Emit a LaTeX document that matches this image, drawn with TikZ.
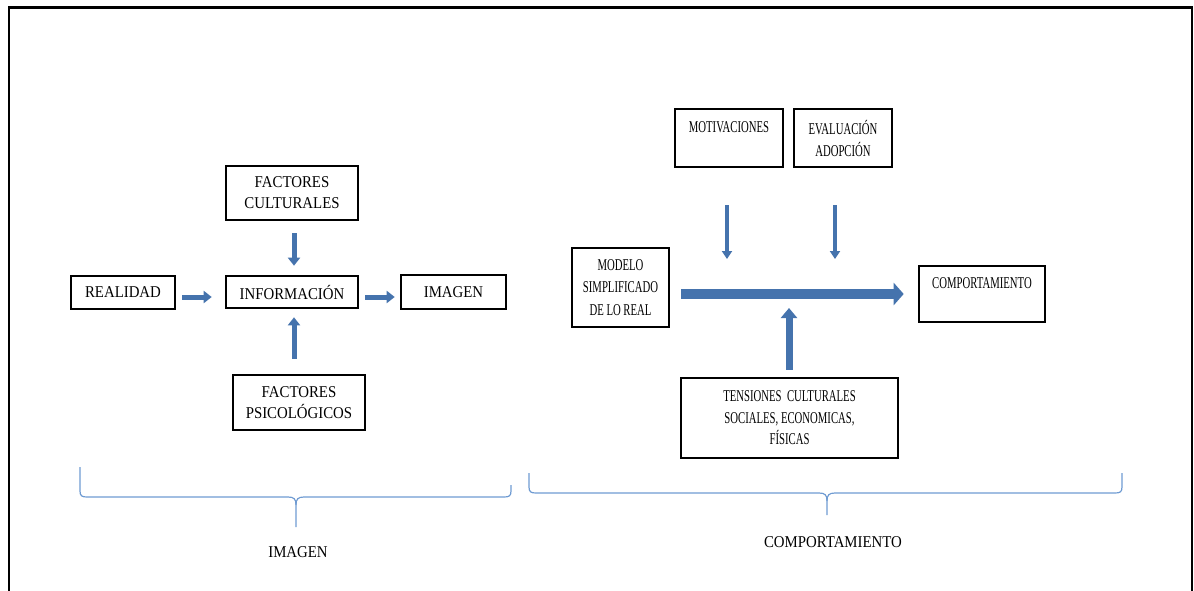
\documentclass[tikz,border=0pt]{standalone}
\usepackage{fontspec}
\setmainfont{Liberation Serif}[FakeStretch=0.9]
\newfontfamily\narrowf{Liberation Serif}[FakeStretch=0.65]
\usetikzlibrary{arrows.meta,shadows}
\definecolor{arrowblue}{HTML}{4573AD}
\definecolor{bracecol}{HTML}{6F9BD2}
\begin{document}
\begin{tikzpicture}[x=1pt, y=-1pt, font=\fontsize{16.5}{21}\selectfont,
  box/.style={draw=black, line width=2.6pt, fill=white, inner sep=0pt, align=center,
    general shadow={fill=black!35, shadow xshift=1pt, shadow yshift=-1pt}},
  rbox/.style={box, font=\fontsize{16.5}{22}\selectfont\narrowf},
  barrow/.style={draw=arrowblue, line width=5pt, -{Triangle[width=12pt,length=8pt]}},
  bigarrow/.style={draw=arrowblue, line width=10pt, -{Triangle[width=22pt,length=10pt]}},
  midarrow/.style={draw=arrowblue, line width=7pt, -{Triangle[width=16pt,length=10pt]}},
  thinarrow/.style={draw=arrowblue, line width=3.5pt, -{Triangle[width=10pt,length=8pt]}},
  brace/.style={draw=bracecol, line width=1.2pt}]
\useasboundingbox (0,0) rectangle (1194,591);
% outer frame
\draw[line width=2.5pt] (9,595) -- (9,7.5) -- (1192,7.5) -- (1192,595);

% left part
\node[box, minimum width=104pt, minimum height=33pt] (real) at (123,292.5) {REALIDAD};
\node[box, minimum width=132pt, minimum height=32pt] (info) at (292,292) {INFORMACIÓN};
\node[box, minimum width=105pt, minimum height=34pt] (imag) at (453.5,292) {IMAGEN};
\node[box, minimum width=132pt, minimum height=54pt] (fc) at (292,193) {FACTORES\\CULTURALES};
\node[box, minimum width=132pt, minimum height=55pt] (fp) at (299,402.5) {FACTORES\\PSICOLÓGICOS};

\draw[barrow, shorten <=6pt, shorten >=13pt] ([yshift=-4.5pt]real.east) -- ([yshift=-4.5pt]real.east -| info.west);
\draw[barrow, shorten <=6pt, shorten >=5pt] ([yshift=-5pt]info.east) -- ([yshift=-5pt]info.east -| imag.west);
\draw[barrow, shorten <=12pt, shorten >=9pt] ([xshift=2pt]fc.south) -- ([xshift=2pt]info.north);
\draw[barrow, shorten <=15pt, shorten >=8pt] ([xshift=-5pt]fp.north) -- ([xshift=2pt]info.south);

% right part
\node[rbox, minimum width=108pt, minimum height=58pt] (mot) at (729,138) {MOTIVACIONES\\ \mbox{}};
\node[rbox, minimum width=98pt, minimum height=58pt] (eva) at (843,138) {EVALUACIÓN\\ADOPCIÓN};
\node[rbox, minimum width=97pt, minimum height=79pt, font=\fontsize{16.5}{22.5}\selectfont\narrowf] (mod) at (620.5,287.5) {MODELO\\SIMPLIFICADO\\DE LO REAL};
\node[rbox, minimum width=126pt, minimum height=56pt] (comp) at (982,294) {COMPORTAMIENTO\\ \mbox{}};
\node[rbox, minimum width=217pt, minimum height=80pt, font=\fontsize{16.5}{21.5}\selectfont\narrowf] (ten) at (789.5,418) {TENSIONES\ \ CULTURALES\\SOCIALES, ECONOMICAS,\\FÍSICAS};

\coordinate (m1) at (727,259);
\coordinate (e1) at (835,259);
\coordinate (t1) at (789,308);

\draw[thinarrow, shorten <=37pt] (mot.south -| m1) -- (m1);
\draw[thinarrow, shorten <=37pt] (eva.south -| e1) -- (e1);
\draw[bigarrow, shorten <=11pt, shorten >=14pt] (mod.east |- comp.west) -- (comp.west);
\draw[midarrow, shorten <=7pt] (ten.north -| t1) -- (t1);

% braces
\draw[brace] (80,467) -- (80,491) .. controls (80,496) and (82,497) .. (87,497) -- (288,497) .. controls (294,497) and (296,499) .. (296,505) -- (296,527);
\draw[brace] (511,485) -- (511,491) .. controls (511,496) and (509,497) .. (504,497) -- (304,497) .. controls (298,497) and (296,499) .. (296,505);
\draw[brace] (529,473) -- (529,487) .. controls (529,492) and (531,493) .. (536,493) -- (819,493) .. controls (825,493) and (827,495) .. (827,501) -- (827,515);
\draw[brace] (1122,473) -- (1122,487) .. controls (1122,492) and (1120,493) .. (1115,493) -- (835,493) .. controls (829,493) and (827,495) .. (827,501);

\node (limg) at (298,552) {IMAGEN};
\node (lcomp) at (833,542) {COMPORTAMIENTO};
\end{tikzpicture}
\end{document}
